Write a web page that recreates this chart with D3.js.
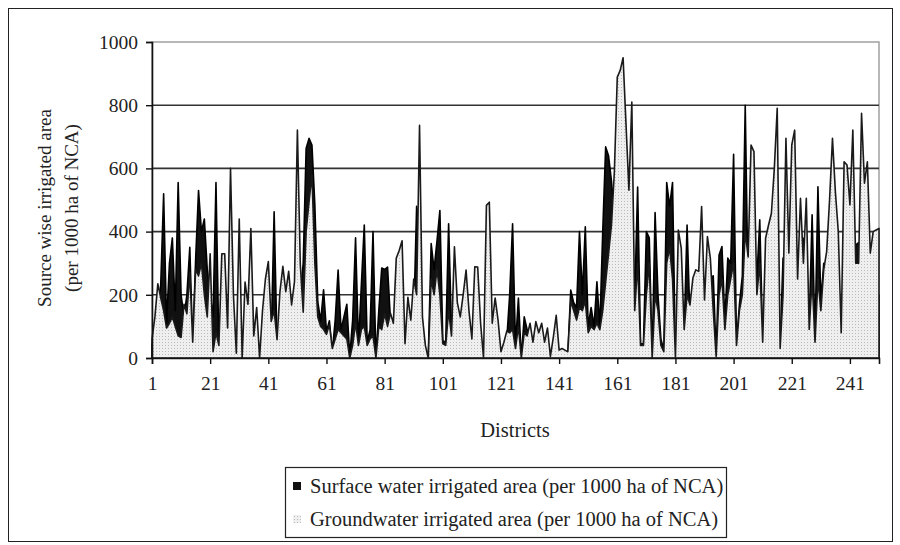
<!DOCTYPE html>
<html>
<head>
<meta charset="utf-8">
<script src="https://cdn.jsdelivr.net/npm/d3@7"></script>
<style>
  body { margin: 0; background: #fff; }
  svg { font-family: "Liberation Serif", "Times New Roman", serif; }
</style>
</head>
<body>
<script>
// districts 1..251 (categories)
const districts = d3.range(1, 252);

// surface water irrigated area (per 1000 ha of NCA)
const surface = [
  40, 80, 150, 230, 520, 110, 300, 380, 150, 555,
  200, 130, 200, 350, 40, 310, 530, 400, 440, 280,
  200, 130, 555, 30, 100, 90, 50, 120, 60, 10,
  80, 0, 60, 70, 80, 40, 50, 0, 50, 60,
  80, 60, 463, 40, 80, 90, 100, 80, 60, 100,
  200, 200, 300, 663, 695, 674, 484, 179, 116, 216,
  84, 118, 20, 120, 278, 90, 130, 170, 5, 120,
  380, 45, 232, 421, 50, 90, 400, 0, 150, 285,
  280, 288, 120, 60, 80, 70, 90, 30, 80, 60,
  120, 480, 400, 100, 30, 0, 362, 280, 370, 467,
  55, 50, 425, 90, 200, 120, 80, 100, 120, 60,
  40, 100, 90, 60, 0, 100, 110, 60, 80, 50,
  15, 40, 60, 200, 425, 40, 190, 0, 130, 90,
  80, 40, 70, 50, 60, 30, 50, 5, 40, 60,
  20, 20, 20, 15, 215, 175, 160, 400, 200, 415,
  100, 160, 100, 241, 100, 400, 668, 640, 560, 450,
  200, 150, 100, 100, 200, 250, 190, 541, 45, 45,
  400, 380, 0, 460, 200, 60, 25, 555, 480, 555,
  0, 200, 150, 80, 421, 120, 100, 100, 110, 150,
  100, 200, 250, 260, 10, 326, 353, 116, 316, 300,
  645, 50, 168, 260, 800, 200, 250, 250, 253, 437,
  58, 150, 150, 150, 200, 250, 37, 316, 300, 200,
  250, 300, 316, 300, 379, 300, 105, 453, 63, 542,
  179, 300, 250, 200, 250, 200, 250, 95, 300, 250,
  200, 250, 358, 365, 300, 250, 250, 200, 200, 200,
  200
];

// groundwater irrigated area (per 1000 ha of NCA)
const ground = [
  60, 130, 235, 190, 150, 95, 110, 130, 100, 70,
  65, 170, 140, 270, 50, 280, 260, 300, 200, 130,
  330, 20, 80, 40, 330, 330, 95, 600, 200, 15,
  440, 0, 240, 170, 410, 70, 160, 0, 150, 250,
  305, 116, 150, 58, 210, 290, 210, 274, 168, 242,
  721, 295, 145, 400, 495, 580, 300, 130, 100, 90,
  75, 105, 30, 60, 90, 80, 70, 60, 0, 40,
  110, 40, 90, 100, 40, 60, 70, 0, 100, 90,
  140, 100, 142, 110, 316, 340, 371, 45, 192, 120,
  250, 200, 736, 130, 40, 0, 250, 200, 280, 200,
  45, 40, 150, 70, 352, 175, 130, 200, 278, 150,
  60, 289, 288, 110, 0, 483, 493, 110, 190, 120,
  20, 50, 85, 80, 90, 30, 100, 0, 80, 70,
  110, 50, 115, 80, 110, 50, 95, 5, 65, 135,
  25, 30, 25, 20, 180, 150, 120, 160, 150, 180,
  80, 100, 90, 110, 90, 150, 240, 330, 420, 590,
  889, 910, 950, 740, 531, 810, 150, 300, 40, 40,
  200, 300, 0, 200, 150, 40, 20, 300, 350, 250,
  0, 405, 347, 90, 200, 168, 253, 279, 274, 479,
  184, 384, 316, 150, 5, 200, 250, 90, 200, 250,
  300, 40, 150, 200, 400, 320, 674, 653, 200, 300,
  50, 379, 420, 458, 600, 790, 30, 200, 695, 332,
  674, 721, 250, 505, 300, 505, 90, 250, 50, 250,
  150, 280, 337, 500, 695, 526, 400, 80, 621, 611,
  484, 721, 300, 300, 774, 553, 621, 332, 400, 405,
  410
];

const xTicks = [1, 21, 41, 61, 81, 101, 121, 141, 161, 181, 201, 221, 241];
const yTicks = [0, 200, 400, 600, 800, 1000];
const legendLabels = [
  "Surface water irrigated area (per 1000 ha of NCA)",
  "Groundwater irrigated area (per 1000 ha of NCA)"
];

const W = 900, H = 545;
const plot = { left: 152, right: 879, top: 42, bottom: 358 };

const svg = d3.select("body").append("svg")
  .attr("width", W)
  .attr("height", H);

// dotted fill for groundwater
const defs = svg.append("defs");
const pat = defs.append("pattern")
  .attr("id", "dots")
  .attr("width", 3).attr("height", 3)
  .attr("patternUnits", "userSpaceOnUse");
pat.append("rect").attr("width", 3).attr("height", 3).attr("fill", "#efefef");
pat.append("rect").attr("width", 1).attr("height", 1).attr("fill", "#bbbbbb");

// chart border
svg.append("rect")
  .attr("x", 8.5).attr("y", 8.5)
  .attr("width", 884).attr("height", 533)
  .attr("fill", "none").attr("stroke", "#222").attr("stroke-width", 1);

const x = d3.scaleLinear().domain([1, 251]).range([plot.left, plot.right]);
const y = d3.scaleLinear().domain([0, 1000]).range([plot.bottom, plot.top]);

// plot area border (light)
svg.append("rect")
  .attr("x", plot.left).attr("y", plot.top)
  .attr("width", plot.right - plot.left).attr("height", plot.bottom - plot.top)
  .attr("fill", "none").attr("stroke", "#a0a0a0").attr("stroke-width", 1.5);

// gridlines
svg.append("g")
  .selectAll("line")
  .data(yTicks.filter(v => v > 0 && v < 1000))
  .join("line")
  .attr("x1", plot.left).attr("x2", plot.right)
  .attr("y1", d => y(d)).attr("y2", d => y(d))
  .attr("stroke", "#333").attr("stroke-width", 1.6);

// surface water area (behind)
const areaS = d3.area()
  .x((d, i) => x(districts[i]))
  .y0(y(0))
  .y1(d => y(d));

svg.append("path")
  .datum(surface)
  .attr("d", areaS)
  .attr("fill", "#111")
  .attr("stroke", "#000")
  .attr("stroke-width", 1.6)
  .attr("stroke-linejoin", "round");

// groundwater area (front)
svg.append("path")
  .datum(ground)
  .attr("d", areaS)
  .attr("fill", "url(#dots)")
  .attr("stroke", "#1a1a1a")
  .attr("stroke-width", 1.6)
  .attr("stroke-linejoin", "round");

// axes
const yAxis = d3.axisLeft(y).tickValues(yTicks).tickFormat(d3.format("d"))
  .tickSize(6).tickPadding(8);
const gy = svg.append("g")
  .attr("transform", "translate(" + plot.left + ",0)")
  .call(yAxis);

const xAxis = d3.axisBottom(x).tickValues(xTicks).tickFormat(d3.format("d"))
  .tickSize(6).tickPadding(12);
const gx = svg.append("g")
  .attr("transform", "translate(0," + plot.bottom + ")")
  .call(xAxis);

[gx, gy].forEach(g => {
  g.select(".domain").attr("stroke", "#111").attr("stroke-width", 1.6);
  g.selectAll(".tick line").attr("stroke", "#111").attr("stroke-width", 1.4);
  g.selectAll(".tick text")
    .attr("font-family", "Liberation Serif, serif")
    .attr("font-size", 19.5)
    .attr("fill", "#222");
});

// axis titles
svg.append("text")
  .attr("x", 515).attr("y", 437)
  .attr("text-anchor", "middle")
  .attr("font-size", 20.5)
  .attr("fill", "#222")
  .text("Districts");

const yt = svg.append("text")
  .attr("transform", "translate(51,208) rotate(-90)")
  .attr("text-anchor", "middle")
  .attr("font-size", 19)
  .attr("fill", "#222");
yt.append("tspan").attr("x", 0).attr("y", 0).text("Source wise irrigated area");
yt.append("tspan").attr("x", 0).attr("y", 27).text("(per 1000 ha of NCA)");

// legend
const lg = svg.append("g");
lg.append("rect")
  .attr("x", 285.5).attr("y", 467.5)
  .attr("width", 441).attr("height", 70)
  .attr("fill", "#fff").attr("stroke", "#222").attr("stroke-width", 1.2);

const swatch = ["#111", "url(#dots)"];
legendLabels.forEach((t, i) => {
  const cy = 487 + i * 33;
  lg.append("rect")
    .attr("x", 293).attr("y", cy - 5)
    .attr("width", 8).attr("height", 8)
    .attr("fill", swatch[i]);
  lg.append("text")
    .attr("x", 310).attr("y", cy + 6)
    .attr("font-size", 20.5)
    .attr("fill", "#222")
    .text(t);
});
</script>
</body>
</html>
